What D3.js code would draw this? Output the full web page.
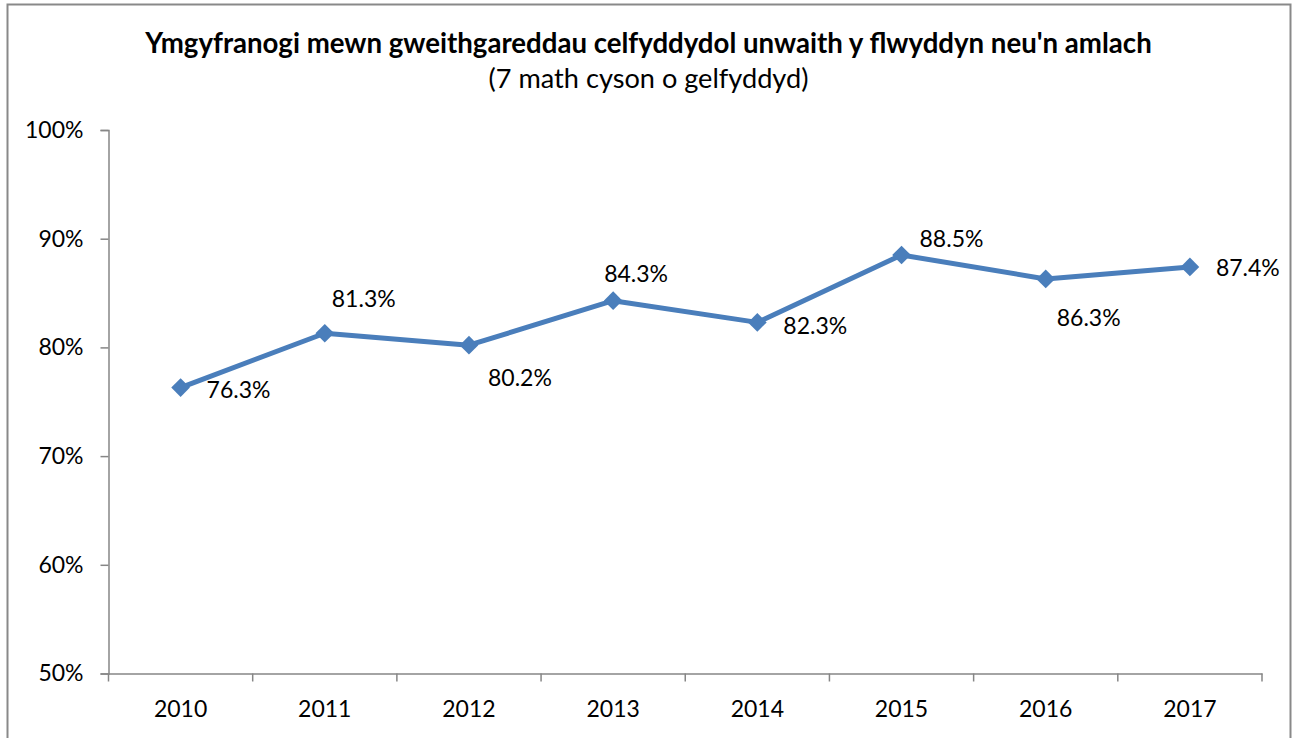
<!DOCTYPE html>
<html><head><meta charset="utf-8">
<script src="https://cdn.jsdelivr.net/npm/d3@7"></script>
<style>body{margin:0;background:#fff} svg{display:block}</style>
</head><body><svg id="c" width="1297" height="738"></svg>
<script>
const years = ["2010","2011","2012","2013","2014","2015","2016","2017"];
const values = [76.3, 81.3, 80.2, 84.3, 82.3, 88.5, 86.3, 87.4];
const yTicks = [50, 60, 70, 80, 90, 100];
const titleText = "Ymgyfranogi mewn gweithgareddau celfyddydol unwaith y flwyddyn neu'n amlach";
const subtitleText = "(7 math cyson o gelfyddyd)";
// label placement (style): offset of text left edge / vertical centre from the point
const labelOffsets = [[26,1],[7,-35],[19,32],[-9,-28],[26,3],[18,-17],[11,38],[26,0]];

const svg = d3.select("#c");
const FONT = "Lato, 'Open Sans', sans-serif";
const axisColor = "#868686";
const lineColor = "#4A7EBB";

svg.append("rect").attr("x",7.5).attr("y",4.5).attr("width",1283).attr("height",800)
  .attr("fill","#fff").attr("stroke","#898989").attr("stroke-width",2);

const x = d3.scaleBand().domain(years).range([108.5, 1262]);
const y = d3.scaleLinear().domain([50, 100]).range([673.5, 130]);

function fitText(sel, target) {
  const w = sel.node().getComputedTextLength();
  const fs = parseFloat(sel.attr("font-size"));
  sel.attr("font-size", fs * target / w);
}
const title = svg.append("text").attr("x", 648.5).attr("y", 53).attr("text-anchor","middle")
  .attr("font-family", FONT).attr("font-weight","bold").attr("font-size",28).attr("fill","#000")
  .text(titleText);
fitText(title, 1007);
const sub = svg.append("text").attr("x", 648.5).attr("y", 88).attr("text-anchor","middle")
  .attr("font-family", FONT).attr("font-size",23).attr("fill","#000")
  .text(subtitleText);
fitText(sub, 320);

// Y axis
const yAxis = svg.append("g").attr("transform","translate(108.5,0)")
  .call(d3.axisLeft(y).tickValues(yTicks).tickFormat(d => d + "%").tickSize(8).tickPadding(17));
yAxis.selectAll("path,line").attr("stroke", axisColor).attr("stroke-width", 1.5);
yAxis.selectAll("text").attr("font-family", FONT).attr("font-size", 23).attr("fill","#000");

// X axis
const xAxis = svg.append("g").attr("transform","translate(0,673.5)")
  .call(d3.axisBottom(x).tickSize(0).tickPadding(27));
xAxis.select(".domain").attr("stroke", axisColor).attr("stroke-width", 1.5);
xAxis.selectAll("text").attr("font-family", FONT).attr("font-size", 23).attr("fill","#000");
const bounds = years.map(d => x(d)).concat([x.range()[1]]);
xAxis.selectAll(".bt").data(bounds).enter().append("line").attr("class","bt")
  .attr("x1", d => d).attr("x2", d => d).attr("y1", 0).attr("y2", 8)
  .attr("stroke", axisColor).attr("stroke-width", 1.5);

const cx = d => x(d) + x.bandwidth() / 2;
const pts = years.map((d, i) => ({year: d, v: values[i], off: labelOffsets[i]}));

svg.append("path").datum(pts)
  .attr("d", d3.line().x(d => cx(d.year)).y(d => y(d.v)))
  .attr("fill","none").attr("stroke", lineColor).attr("stroke-width", 5).attr("stroke-linejoin","round");

svg.selectAll(".mk").data(pts).enter().append("path").attr("class","mk")
  .attr("d", d3.symbol(d3.symbolSquare, 175))
  .attr("transform", d => `translate(${cx(d.year)},${y(d.v)}) rotate(45)`)
  .attr("fill", lineColor);

svg.selectAll(".lbl").data(pts).enter().append("text").attr("class","lbl")
  .attr("x", d => cx(d.year) + d.off[0]).attr("y", d => y(d.v) + d.off[1])
  .attr("dominant-baseline","central")
  .attr("font-family", FONT).attr("font-size", 23).attr("fill","#000")
  .text(d => d.v.toFixed(1) + "%");
</script></body></html>
